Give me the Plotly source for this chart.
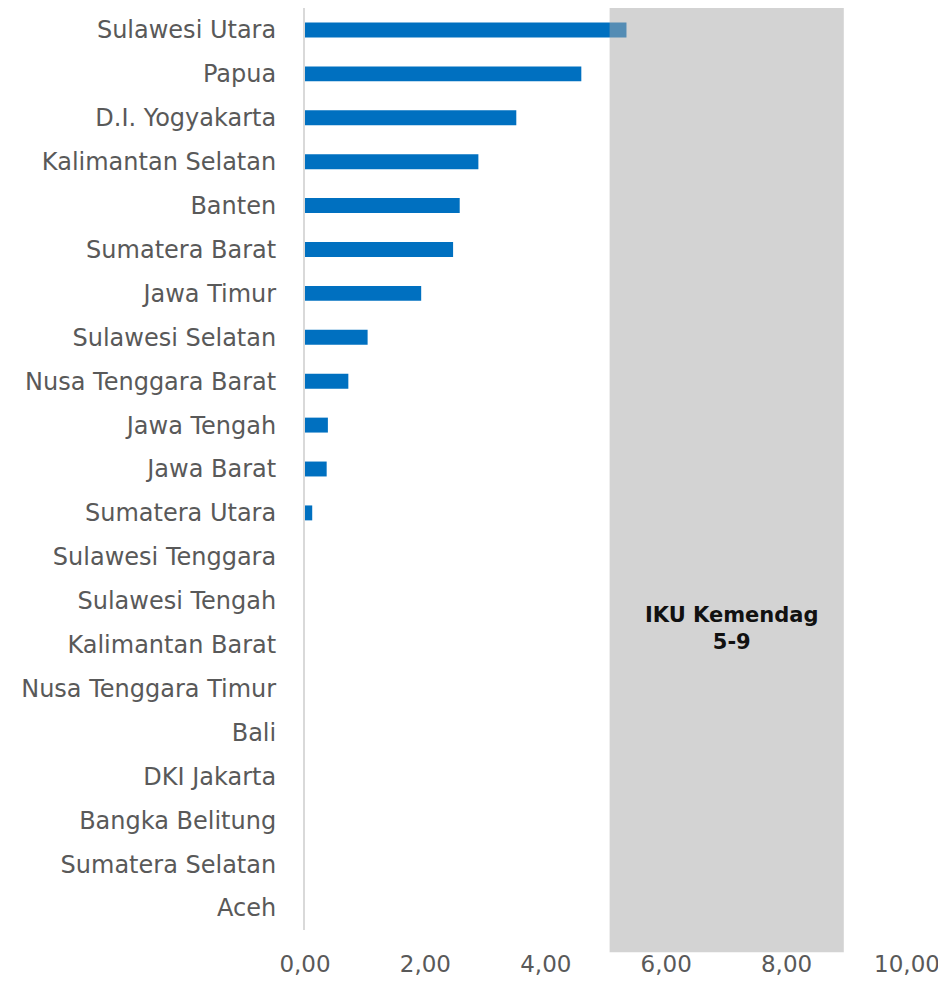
import plotly.graph_objects as go

provinces = ["Sulawesi Utara", "Papua", "D.I. Yogyakarta", "Kalimantan Selatan", "Banten",
             "Sumatera Barat", "Jawa Timur", "Sulawesi Selatan", "Nusa Tenggara Barat",
             "Jawa Tengah", "Jawa Barat", "Sumatera Utara", "Sulawesi Tenggara",
             "Sulawesi Tengah", "Kalimantan Barat", "Nusa Tenggara Timur", "Bali",
             "DKI Jakarta", "Bangka Belitung", "Sumatera Selatan", "Aceh"]
values = [5.34, 4.59, 3.51, 2.88, 2.57, 2.46, 1.93, 1.04, 0.72, 0.38, 0.36, 0.12,
          0, 0, 0, 0, 0, 0, 0, 0, 0]
tick_vals = [0, 2, 4, 6, 8, 10]
tick_text = ["0,00", "2,00", "4,00", "6,00", "8,00", "10,00"]
band_low, band_high = 5, 9
band_label = "IKU Kemendag<br>5-9"

FONT = "DejaVu Sans"

fig = go.Figure()
fig.add_trace(go.Bar(
    y=provinces, x=values, orientation="h",
    marker=dict(color="#0070C0", line=dict(width=0)),
    width=0.34, hoverinfo="x+y"))

fig.add_shape(type="rect", xref="x", yref="paper",
              x0=band_low + 0.06, x1=band_high - 0.05, y0=-0.024, y1=1,
              fillcolor="rgba(168,168,168,0.5)", line=dict(width=0), layer="above")

fig.add_annotation(x=7.1, y=6.37, xref="x", yref="y", text="<b>" + band_label + "</b>",
                   showarrow=False, font=dict(family=FONT, size=21, color="#111111"),
                   align="center")

fig.update_layout(
    width=938, height=977,
    margin=dict(l=297, r=39, t=0, b=55, autoexpand=False),
    plot_bgcolor="white", paper_bgcolor="white",
    showlegend=False,
    font=dict(family=FONT, size=24, color="#595959"),
    xaxis=dict(range=[0, 10], tickvals=tick_vals, ticktext=tick_text,
               showgrid=False, zeroline=False, showline=False, automargin=False,
               ticks="", ticklabelstandoff=18, tickfont=dict(size=23, color="#595959")),
    yaxis=dict(categoryorder="array", categoryarray=provinces[::-1],
               range=[-0.5, len(provinces) - 0.5], automargin=False,
               showgrid=False, zeroline=False, showline=True,
               linecolor="#D9D9D9", linewidth=2, ticks="", ticklabelstandoff=22,
               tickfont=dict(size=24, color="#595959")),
)

fig.write_html("out.html")
